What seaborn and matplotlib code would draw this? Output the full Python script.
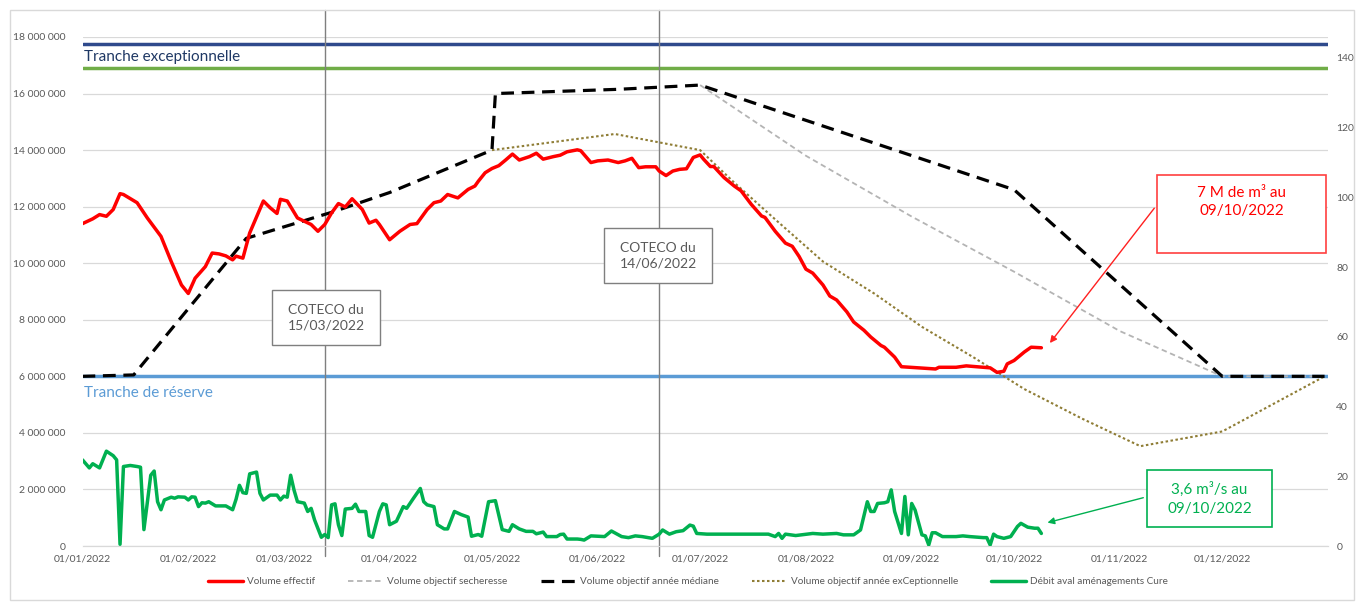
import pandas as pd
import matplotlib.pyplot as plt
from matplotlib.patches import Rectangle
from matplotlib.ticker import FuncFormatter
import seaborn as sns

DEBUT = pd.Timestamp('2022-01-01')

# Volume effectif : jour depuis le 01/01/2022, volume en millions de m3
effectif_jour = [0, 3, 5, 7, 9, 11, 12, 16, 19, 23, 26, 29, 31, 33, 36, 38, 40, 42, 44, 45,
                 47, 49, 53, 55, 57, 58, 60, 63, 67, 69, 71, 73, 75, 77, 79, 82, 84, 86, 87, 90,
                 93, 96, 98, 101, 103, 105, 107, 110, 113, 115, 116, 118, 120, 122, 124, 126, 128, 131, 133, 135,
                 138, 140, 142, 145, 146, 149, 151, 154, 157, 159, 161, 163, 165, 168, 169, 171, 173, 175, 177, 179,
                 181, 182, 184, 185, 188, 191, 193, 196, 199, 200, 203, 206, 208, 210, 212, 214, 217, 219, 221, 224,
                 226, 229, 231, 234, 235, 238, 240, 245, 250, 251, 256, 259, 266, 268, 270, 271, 273, 276, 278, 281]
effectif_vol = [11.40, 11.57, 11.72, 11.66, 11.90, 12.46, 12.43, 12.14, 11.60, 10.95, 10.06, 9.23, 8.93, 9.47, 9.88, 10.36, 10.33, 10.26, 10.12, 10.25,
                10.18, 11.07, 12.20, 11.96, 11.76, 12.26, 12.20, 11.60, 11.37, 11.13, 11.37, 11.78, 12.11, 11.99, 12.28, 11.90, 11.42, 11.52, 11.37, 10.83,
                11.13, 11.37, 11.40, 11.90, 12.14, 12.20, 12.43, 12.31, 12.61, 12.73, 12.90, 13.20, 13.35, 13.45, 13.65, 13.86, 13.65, 13.77, 13.89, 13.68,
                13.77, 13.82, 13.94, 14.01, 13.98, 13.56, 13.62, 13.65, 13.56, 13.62, 13.71, 13.38, 13.41, 13.41, 13.26, 13.10, 13.26, 13.32, 13.34, 13.74,
                13.83, 13.68, 13.42, 13.42, 13.03, 12.73, 12.56, 12.08, 11.67, 11.62, 11.13, 10.71, 10.60, 10.24, 9.79, 9.65, 9.23, 8.84, 8.70, 8.28,
                7.92, 7.63, 7.39, 7.09, 7.03, 6.68, 6.34, 6.30, 6.26, 6.32, 6.32, 6.37, 6.30, 6.14, 6.18, 6.44, 6.56, 6.86, 7.03, 7.01]

# Débit aval aménagements Cure (m3/s, axe de droite)
debit_jour = [0, 2, 3, 5, 7, 9, 10, 11, 12, 14, 16, 17, 18, 20, 21, 22, 23, 24, 26, 27,
              28, 30, 31, 32, 33, 34, 35, 36, 37, 39, 42, 44, 45, 46, 47, 48, 49, 51, 52, 53,
              55, 57, 58, 59, 60, 61, 62, 63, 65, 66, 67, 68, 70, 71, 72, 73, 74, 75, 76, 77,
              79, 80, 81, 83, 84, 85, 87, 88, 89, 90, 92, 94, 95, 97, 99, 100, 101, 103, 104, 106,
              107, 109, 111, 113, 114, 116, 117, 119, 121, 123, 125, 126, 128, 130, 132, 133, 135, 136, 139, 140,
              141, 142, 145, 146, 147, 149, 153, 155, 158, 160, 162, 164, 167, 169, 170, 172, 174, 176, 178, 179,
              180, 183, 201, 203, 204, 205, 206, 209, 214, 217, 221, 223, 226, 228, 230, 231, 232, 233, 235, 236,
              237, 238, 240, 241, 242, 243, 244, 246, 247, 248, 249, 250, 252, 256, 258, 260, 264, 265, 266, 267,
              268, 270, 272, 274, 275, 277, 279, 280, 281]
debit_val = [24.7, 22.4, 23.6, 22.4, 27.2, 25.9, 24.7, 0.5, 22.8, 23.1, 22.8, 22.6, 4.7, 20.3, 21.5, 12.7, 10.4, 13.2, 14.0, 13.7,
             14.1, 14.0, 13.2, 14.1, 14.0, 11.3, 12.4, 12.3, 12.7, 11.5, 11.5, 10.4, 13.4, 17.4, 15.3, 15.1, 20.7, 21.2, 15.1, 13.2,
             14.6, 14.6, 13.2, 14.3, 14.0, 20.3, 16.0, 12.7, 12.3, 9.9, 10.8, 7.5, 2.5, 3.3, 2.4, 11.8, 12.1, 6.1, 3.0, 10.6,
             10.8, 12.0, 9.9, 9.9, 3.0, 2.5, 9.9, 12.1, 11.8, 6.1, 7.1, 11.3, 10.8, 13.7, 16.5, 12.7, 11.8, 11.3, 6.1, 4.9,
             4.9, 9.9, 9.0, 8.3, 2.8, 3.3, 2.8, 12.7, 13.0, 4.7, 4.2, 6.1, 4.9, 4.2, 4.2, 3.5, 4.0, 2.7, 2.7, 3.3,
             3.4, 2.0, 2.0, 1.9, 1.7, 2.9, 2.7, 4.3, 2.7, 2.4, 2.9, 2.7, 2.2, 3.4, 4.6, 3.4, 4.1, 4.4, 6.0, 5.7,
             3.6, 3.4, 3.4, 2.7, 3.6, 2.2, 3.4, 3.0, 3.6, 3.4, 3.6, 3.2, 3.2, 4.6, 12.7, 9.9, 9.9, 12.2, 12.4, 12.7,
             16.1, 9.9, 3.6, 14.2, 3.2, 12.2, 10.3, 3.2, 2.9, 0.3, 3.8, 3.8, 2.7, 2.7, 2.9, 2.7, 2.4, 2.4, 0.3, 3.4,
             2.7, 2.2, 2.7, 5.6, 6.5, 5.4, 5.1, 5.1, 3.6]

# Volumes objectifs (millions de m3)
mediane_jour = [0, 15, 48, 73, 90, 120, 121, 157, 181, 273, 334, 364]
mediane_vol = [6.0, 6.05, 10.88, 11.8, 12.5, 14.0, 16.0, 16.15, 16.3, 12.6, 6.0, 6.0]
secheresse_jour = [181, 212, 243, 273, 304, 334, 364]
secheresse_vol = [16.3, 13.8, 11.65, 9.7, 7.6, 6.0, 6.0]
exception_jour = [120, 156, 181, 191, 203, 217, 232, 246, 261, 276, 293, 310, 334, 364]
exception_vol = [14.0, 14.57, 14.0, 12.85, 11.55, 10.06, 8.93, 7.75, 6.68, 5.55, 4.5, 3.53, 4.05, 6.0]

# Tranches (millions de m3)
tranche_haut = 17.75
tranche_exceptionnelle = 16.9
tranche_reserve = 6.0

coteco_dates = ['2022-03-13', '2022-06-19']
coteco_textes = ['COTECO du\n15/03/2022', 'COTECO du\n14/06/2022']

mois = pd.date_range('2022-01-01', '2022-12-01', freq='MS')

W, H = 1358, 604


def fx(p):
    return p / W


def fy(p):
    return 1 - p / H


def serie(jours, vals, facteur=1.0):
    return pd.DataFrame({'date': DEBUT + pd.to_timedelta(jours, unit='D'),
                         'val': [v * facteur for v in vals]})


sns.set_style('white')
plt.rcParams['font.family'] = ['Lato', 'DejaVu Sans']

fig = plt.figure(figsize=(W / 100, H / 100), dpi=100)
ax = fig.add_axes([fx(82.5), fy(546), (1328 - 82.5) / W, (546 - 37) / H])
ax2 = ax.twinx()

# lignes des tranches
ax.axhline(tranche_haut * 1e6, color='#2f4a8c', lw=2.5, zorder=1.5)
ax.axhline(tranche_exceptionnelle * 1e6, color='#70ad47', lw=2.5, zorder=1.5)
ax.axhline(tranche_reserve * 1e6, color='#5b9bd5', lw=2.5, zorder=1.5)

for d in coteco_dates:
    ax.axvline(pd.Timestamp(d), ymin=-0.02, ymax=1.053, clip_on=False, color='#7f7f7f', lw=1, zorder=1.6)

sns.lineplot(data=serie(secheresse_jour, secheresse_vol, 1e6), x='date', y='val', ax=ax, color='#b4b4b4',
             lw=1.3, linestyle=(0, (3, 2)), estimator=None, sort=False, legend=False,
             label='Volume objectif secheresse', zorder=2)
sns.lineplot(data=serie(exception_jour, exception_vol, 1e6), x='date', y='val', ax=ax, color='#8f7d35',
             lw=1.5, linestyle=(0, (1.2, 1.2)), estimator=None, sort=False, legend=False,
             label='Volume objectif année exCeptionnelle', zorder=2.2)
sns.lineplot(data=serie(mediane_jour, mediane_vol, 1e6), x='date', y='val', ax=ax, color='black',
             lw=2.3, linestyle=(0, (4, 2.4)), estimator=None, sort=False, legend=False,
             label='Volume objectif année médiane', zorder=2.5)
sns.lineplot(data=serie(effectif_jour, effectif_vol, 1e6), x='date', y='val', ax=ax, color='#ff0000',
             lw=2.5, estimator=None, sort=False, legend=False, label='Volume effectif', zorder=3)
sns.lineplot(data=serie(debit_jour, debit_val), x='date', y='val', ax=ax2, color='#00b050',
             lw=2.5, estimator=None, sort=False, legend=False, label='Débit aval aménagements Cure', zorder=3)

# axes
ax.set_xlim(DEBUT, pd.Timestamp('2023-01-01'))
ax.set_ylim(0, 18e6)
ax2.set_ylim(0, 146)
ax.set_yticks(range(0, 18000001, 2000000))
ax.yaxis.set_major_formatter(FuncFormatter(lambda v, p: f"{int(v):,}".replace(',', ' ')))
ax2.set_yticks(range(0, 141, 20))
ax.set_xticks(mois)
ax.set_xticklabels([m.strftime('%d/%m/%Y') for m in mois])
ax.set_xlabel('')
ax.set_ylabel('')
ax2.set_ylabel('')
ax.grid(axis='y', color='#d9d9d9', lw=0.9)
ax.set_axisbelow(True)
for a in (ax, ax2):
    for s in ('top', 'left', 'right'):
        a.spines[s].set_visible(False)
    a.spines['bottom'].set_color('#d9d9d9')
ax.tick_params(axis='x', length=4, color='#bfbfbf', labelsize=7.5, labelcolor='#595959', pad=2)
ax.tick_params(axis='y', length=0, labelsize=7.5, labelcolor='#595959', pad=12)
ax2.tick_params(axis='y', length=0, labelsize=7.5, labelcolor='#595959', pad=6)

# textes des tranches
ax.text(DEBUT + pd.Timedelta(days=0.5), 17.3e6, 'Tranche exceptionnelle', color='#1f3864',
        fontsize=11, va='center', ha='left')
ax.text(DEBUT + pd.Timedelta(days=0.5), 5.4e6, 'Tranche de réserve', color='#5b9bd5',
        fontsize=11, va='center', ha='left')

# encadrés COTECO
boites = [(272, 290, 380, 345), (604, 228, 712, 283)]
for (x0, y0, x1, y1), txt in zip(boites, coteco_textes):
    fig.add_artist(Rectangle((fx(x0), fy(y1)), (x1 - x0) / W, (y1 - y0) / H, transform=fig.transFigure,
                             facecolor='white', edgecolor='#7f7f7f', lw=1, zorder=5))
    fig.text(fx((x0 + x1) / 2), fy((y0 + y1) / 2), txt, ha='center', va='center', fontsize=10,
             color='#595959', linespacing=1.35, zorder=6)

# encadré volume
fig.add_artist(Rectangle((fx(1157), fy(253)), (1326 - 1157) / W, (253 - 175) / H, transform=fig.transFigure,
                         facecolor='white', edgecolor='#ff4040', lw=1.2, zorder=5))
fig.text(fx(1241.5), fy(202), '7 M de m³ au\n09/10/2022', ha='center', va='center', fontsize=11,
         color='#ff0000', linespacing=1.45, zorder=6)
ax.annotate('', xy=(DEBUT + pd.Timedelta(days=283), 7.1e6), xycoords='data',
            xytext=(fx(1156), fy(206)), textcoords='figure fraction',
            arrowprops=dict(arrowstyle='-|>', color='#ff2020', lw=1, mutation_scale=10))

# encadré débit
fig.add_artist(Rectangle((fx(1147), fy(527)), (1272 - 1147) / W, (527 - 470) / H, transform=fig.transFigure,
                         facecolor='white', edgecolor='#00b050', lw=1.2, zorder=5))
fig.text(fx(1209.5), fy(499), '3,6 m³/s au\n09/10/2022', ha='center', va='center', fontsize=11,
         color='#00b050', linespacing=1.45, zorder=6)
ax2.annotate('', xy=(DEBUT + pd.Timedelta(days=282), 6.5), xycoords='data',
             xytext=(fx(1146), fy(497)), textcoords='figure fraction',
             arrowprops=dict(arrowstyle='-|>', color='#00b050', lw=1, mutation_scale=10))

# légende
h1, l1 = ax.get_legend_handles_labels()
h2, l2 = ax2.get_legend_handles_labels()
poignees = dict(zip(l1 + l2, h1 + h2))
ordre = ['Volume effectif', 'Volume objectif secheresse', 'Volume objectif année médiane',
         'Volume objectif année exCeptionnelle', 'Débit aval aménagements Cure']
fig.legend([poignees[o] for o in ordre], ordre, loc='center', bbox_to_anchor=(fx(688), fy(582)), ncol=5,
           frameon=False, fontsize=7.2, handlelength=3.5, handletextpad=0.4, columnspacing=3.3,
           labelcolor='#595959')

# cadre du graphique
fig.add_artist(Rectangle((fx(10), fy(600)), (1354 - 10) / W, (600 - 10) / H, transform=fig.transFigure,
                         fill=False, edgecolor='#d9d9d9', lw=1))

fig.savefig('out.png', dpi=100)
